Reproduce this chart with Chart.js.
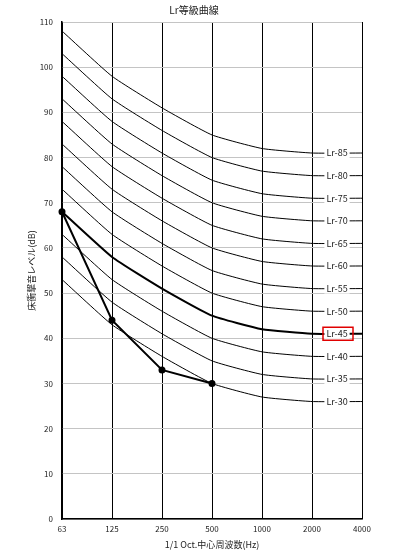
<!DOCTYPE html>
<html>
<head>
<meta charset="utf-8">
<script src="https://cdn.jsdelivr.net/npm/chart.js@4/dist/chart.umd.min.js"></script>
<style>
  html, body { margin: 0; padding: 0; background: #fff; }
  canvas { display: block; }
</style>
</head>
<body>
<canvas id="lrChart" width="394" height="550"></canvas>
<script>
const freqs = ['63', '125', '250', '500', '1000', '2000', '4000'];

// Lr等級曲線
const lr85 = [108, 98, 91, 85, 82, 81, 81];
const lr80 = [103, 93, 86, 80, 77, 76, 76];
const lr75 = [98, 88, 81, 75, 72, 71, 71];
const lr70 = [93, 83, 76, 70, 67, 66, 66];
const lr65 = [88, 78, 71, 65, 62, 61, 61];
const lr60 = [83, 73, 66, 60, 57, 56, 56];
const lr55 = [78, 68, 61, 55, 52, 51, 51];
const lr50 = [73, 63, 56, 50, 47, 46, 46];
const lr45 = [68, 58, 51, 45, 42, 41, 41];
const lr40 = [63, 53, 46, 40, 37, 36, 36];
const lr35 = [58, 48, 41, 35, 32, 31, 31];
const lr30 = [53, 43, 36, 30, 27, 26, 26];

// 測定値
const measured = [68, 44, 33, 30, null, null, null];

const curves = [
  ['Lr-85', lr85], ['Lr-80', lr80], ['Lr-75', lr75], ['Lr-70', lr70],
  ['Lr-65', lr65], ['Lr-60', lr60], ['Lr-55', lr55], ['Lr-50', lr50],
  ['Lr-45', lr45], ['Lr-40', lr40], ['Lr-35', lr35], ['Lr-30', lr30],
];
const ratedLabel = 'Lr-45';

const font = "'Noto Sans CJK JP', 'DejaVu Sans', sans-serif";

const datasets = curves.map(([name, vals]) => ({
  label: name,
  data: vals,
  borderColor: '#000',
  borderWidth: name === ratedLabel ? 2 : 1,
  pointRadius: 0,
  tension: 0.15,
  fill: false,
}));
datasets.push({
  label: '測定値',
  data: measured,
  borderColor: '#000',
  backgroundColor: '#000',
  borderWidth: 2,
  pointRadius: 2.5,
  tension: 0,
  spanGaps: false,
});

// 右端のラベル (2000-4000 の間)
const curveLabels = {
  id: 'curveLabels',
  afterDatasetsDraw(chart) {
    const { ctx, scales: { x, y } } = chart;
    ctx.save();
    ctx.font = `9px ${font}`;
    ctx.textAlign = 'center';
    ctx.textBaseline = 'middle';
    const cx = x.getPixelForValue(5.5);
    curves.forEach(([name, vals]) => {
      const cy = y.getPixelForValue(vals[6]);
      const w = ctx.measureText(name).width + 4;
      ctx.fillStyle = '#fff';
      ctx.fillRect(cx - w / 2, cy - 5, w, 10);
      ctx.fillStyle = '#222';
      ctx.fillText(name, cx, cy);
      if (name === ratedLabel) {
        ctx.strokeStyle = '#e00000';
        ctx.lineWidth = 1.5;
        ctx.strokeRect(cx - 14, cy - 6.5, 30, 13);
      }
    });
    ctx.restore();
  }
};

new Chart(document.getElementById('lrChart'), {
  type: 'line',
  data: { labels: freqs, datasets },
  plugins: [curveLabels],
  options: {
    responsive: false,
    animation: false,
    layout: { padding: { left: 26, right: 32, top: 0, bottom: 0 } },
    plugins: {
      legend: { display: false },
      tooltip: { enabled: false },
      title: {
        display: true,
        text: 'Lr等級曲線',
        color: '#222',
        font: { family: font, size: 10, weight: 'normal' },
        padding: { top: 4, bottom: 6 },
      },
    },
    scales: {
      x: {
        offset: false,
        grid: { color: '#000', lineWidth: 1, drawTicks: false },
        border: { color: '#000', width: 1.5 },
        ticks: { color: '#222', font: { family: font, size: 8 }, padding: 5, maxRotation: 0, autoSkip: false },
        title: {
          display: true,
          text: '1/1 Oct.中心周波数(Hz)',
          color: '#222',
          font: { family: font, size: 9 },
          padding: { top: 2, bottom: 0 },
        },
        afterFit(scale) { scale.height = 31; },
      },
      y: {
        min: 0,
        max: 110,
        grid: { color: '#c4c4c4', lineWidth: 1, drawTicks: false },
        border: { color: '#000', width: 1.5 },
        ticks: { stepSize: 10, color: '#222', font: { family: font, size: 8 }, padding: 9 },
        title: {
          display: true,
          text: '床衝撃音レベル(dB)',
          color: '#222',
          font: { family: font, size: 9 },
          padding: 0,
        },
        afterFit(scale) { scale.width = 36; },
      },
    },
  },
});
</script>
</body>
</html>
